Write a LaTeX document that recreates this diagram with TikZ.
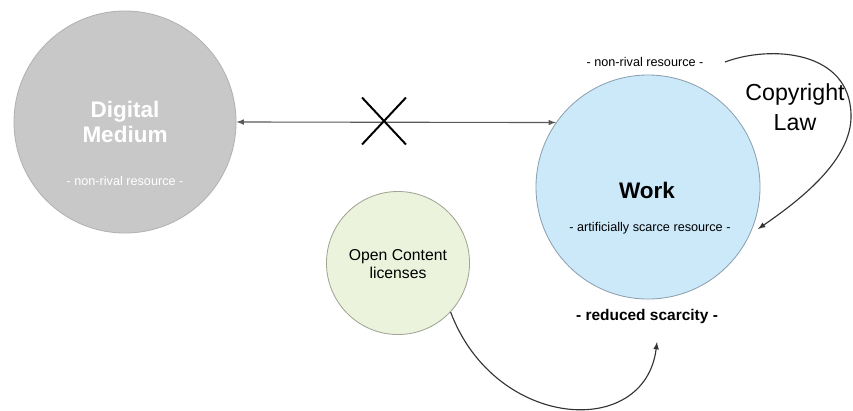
\documentclass[tikz,border=0pt]{standalone}
\usepackage{fontspec}
\setmainfont{Liberation Sans}
\usetikzlibrary{shapes,arrows,positioning}

\definecolor{mediumfill}{RGB}{200,200,200}
\definecolor{mediumedge}{RGB}{178,178,178}
\definecolor{workfill}{RGB}{204,233,250}
\definecolor{workedge}{RGB}{140,160,175}
\definecolor{openfill}{RGB}{236,243,221}
\definecolor{openedge}{RGB}{160,165,150}

\begin{document}
\begin{tikzpicture}[x=0.025cm, y=-0.025cm,
    resource/.style={circle, inner sep=0pt, line width=0.6pt},
    smalltext/.style={font=\fontsize{9}{10}\selectfont},
    link/.style={line width=0.8pt, black!80}]
            \useasboundingbox (0,0) rectangle (853,410);

            % Resources
            \node[resource, fill=mediumfill, draw=mediumedge, minimum size=5.55cm] (medium) at (125,122) {};
            \node[resource, fill=workfill, draw=workedge, minimum size=5.6cm] (work) at (648,187) {};
            \node[resource, fill=openfill, draw=openedge, minimum size=3.575cm] (open) at (398,263) {};

            % Texts
            \node[font=\fontsize{16}{18}\selectfont\bfseries, text=white, align=center] (mediumname) at (125,122) {Digital\\Medium};
            \node[smalltext, text=white] (mediumnote) at (125,181) {- non-rival resource -};
            \node[font=\fontsize{16}{18}\selectfont\bfseries] (workname) at (647,190) {Work};
            \node[smalltext] (worknote) at (650,228) {- artificially scarce resource -};
            \node[smalltext] (worktop) at (645,62) {- non-rival resource -};
            \node[font=\fontsize{11}{11}\selectfont\bfseries] (scarcity) at (647,316) {- reduced scarcity -};
            \node[font=\fontsize{11.2}{13}\selectfont, align=center] (openname) at (398,264) {Open Content\\licenses};
            \node[font=\fontsize{16.5}{21}\selectfont, align=center] (law) at (795,107) {Copyright\\Law};

            % Connectors
            \draw[link, black!65, latex-latex] (medium.east) -- (work.145);
            \node[cross out, draw, line width=1.4pt, minimum width=1.05cm, minimum height=1.125cm, inner sep=0pt] (blocked) at (384,121) {};

            \coordinate (lawstart) at (725,62);
            \coordinate (lawend) at (758,229);
            \draw[link, -latex] (lawstart) .. controls (770,45) and (850,50) .. (851,115)
                .. controls (852,160) and (800,200) .. (lawend);

            \coordinate (scarcetip) at (657,342);
            \draw[link, -latex] (open.-43) .. controls (495,430) and (645,440) .. (scarcetip);
        \end{tikzpicture}
\end{document}
